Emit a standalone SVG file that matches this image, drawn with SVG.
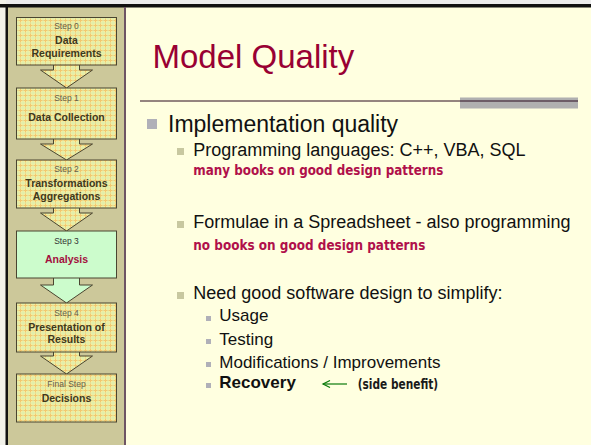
<svg xmlns="http://www.w3.org/2000/svg" width="591" height="445" viewBox="0 0 591 445">
<style>
.box{stroke:#4a4530;stroke-width:1}
.plaid{fill:url(#plaid)}
.green{fill:#ccfccc}
.arr{stroke:#4a4530;stroke-width:1;stroke-linejoin:miter}
.step{font-family:"Liberation Sans",Arial,sans-serif;font-size:8.5px;fill:#66604a;text-anchor:middle}
.lbl{font-family:"Liberation Sans",Arial,sans-serif;font-size:10.5px;font-weight:bold;fill:#40381c;text-anchor:middle}
.t1{font-family:"Liberation Sans",Arial,sans-serif;font-size:23px;fill:#111}
.t2{font-family:"Liberation Sans",Arial,sans-serif;font-size:18px;fill:#111}
.t3{font-family:"Liberation Sans",Arial,sans-serif;font-size:17px;fill:#111}
.hand{font-family:"Liberation Sans Narrow","DejaVu Sans Condensed",sans-serif;font-size:14px;font-weight:bold}
.b2{fill:#c8c8a0}
.b3{fill:#b0b0b8}
</style>
<defs>
<pattern id="plaid" width="5" height="5" patternUnits="userSpaceOnUse">
<rect width="5" height="5" fill="#f7ee9e"/>
<rect x="0" y="0" width="1" height="5" fill="#f2c870"/>
<rect x="0" y="0" width="5" height="1" fill="#f2c870"/>
<rect x="2.5" y="0" width="1" height="5" fill="#dcefb0"/>
<rect x="0" y="2.5" width="5" height="1" fill="#dcefb0"/>
</pattern>
<marker id="ah" markerWidth="10" markerHeight="8" refX="7.5" refY="4" orient="auto" markerUnits="userSpaceOnUse">
<path d="M0.5,0.5 L7.5,4 L0.5,7.5" fill="none" stroke="#0a7a0a" stroke-width="1.2"/>
</marker>
</defs>
<!-- background -->
<rect x="0" y="0" width="591" height="445" fill="#ffffe0"/>
<rect x="0" y="0" width="591" height="4" fill="#ececec"/>
<rect x="0" y="0" width="6" height="445" fill="#f2f2ea"/>
<rect x="8" y="7" width="116" height="438" fill="#ccc89a"/>
<rect x="0" y="4" width="591" height="3.5" fill="#111"/>
<rect x="5.5" y="4" width="2.5" height="441" fill="#111"/>
<rect x="124" y="7" width="2" height="438" fill="#6e5464"/>

<!-- connectors (block arrows) -->
<g id="connectors">
<polygon class="arr plaid" points="53.5,60 79.5,60 79.5,70 92.5,70 66.5,88 40.5,70 53.5,70"/>
<polygon class="arr plaid" points="53.5,134 79.5,134 79.5,144 92.5,144 66.5,160 40.5,144 53.5,144"/>
<polygon class="arr plaid" points="53.5,203 79.5,203 79.5,213 92.5,213 66.5,231 40.5,213 53.5,213"/>
<polygon class="arr green" points="53.5,273 79.5,273 79.5,285 92.5,285 66.5,303 40.5,285 53.5,285"/>
<polygon class="arr plaid" points="53.5,347 79.5,347 79.5,356 92.5,356 66.5,374 40.5,356 53.5,356"/>
</g>

<g id="step0">
<rect class="box plaid" x="16.5" y="17.5" width="100" height="47.5"/>
<text class="step" x="66.5" y="29">Step 0</text>
<text class="lbl" x="66.5" y="44">Data</text>
<text class="lbl" x="66.5" y="57">Requirements</text>
</g>
<g id="step1">
<rect class="box plaid" x="16.5" y="88" width="100" height="51"/>
<text class="step" x="66.5" y="101">Step 1</text>
<text class="lbl" x="66.5" y="121">Data Collection</text>
</g>
<g id="step2">
<rect class="box plaid" x="16.5" y="160" width="100" height="48"/>
<text class="step" x="66.5" y="172">Step 2</text>
<text class="lbl" x="66.5" y="187">Transformations</text>
<text class="lbl" x="66.5" y="200">Aggregations</text>
</g>
<g id="step3">
<rect class="box green" x="16.5" y="231" width="100" height="47"/>
<text class="step" x="66.5" y="244" style="fill:#333">Step 3</text>
<text class="lbl" x="66.5" y="263" style="fill:#a3103e">Analysis</text>
</g>
<g id="step4">
<rect class="box plaid" x="16.5" y="303" width="100" height="49"/>
<text class="step" x="66.5" y="316">Step 4</text>
<text class="lbl" x="66.5" y="331">Presentation of</text>
<text class="lbl" x="66.5" y="343">Results</text>
</g>
<g id="step5">
<rect class="box plaid" x="16.5" y="374" width="100" height="48"/>
<text class="step" x="66.5" y="387">Final Step</text>
<text class="lbl" x="66.5" y="402">Decisions</text>
</g>

<!-- title -->
<text x="152.5" y="68" font-family="Liberation Sans, Arial, sans-serif" font-size="33" fill="#990033">Model Quality</text>
<rect x="460" y="97.5" width="118" height="11" fill="#b0b0b0"/>
<line x1="140" y1="101" x2="578" y2="101" stroke="#2a0a1e" stroke-width="1"/>

<!-- bullets -->
<rect class="b3" x="147" y="119" width="10" height="10"/>
<text class="t1" x="168" y="131.5">Implementation quality</text>

<rect class="b2" x="177" y="148" width="7" height="7"/>
<text class="t2" x="193.3" y="155.7">Programming languages: C++, VBA, SQL</text>
<text class="hand" x="193.3" y="175" fill="#b0104a" textLength="250" lengthAdjust="spacingAndGlyphs">many books on good design patterns</text>

<rect class="b2" x="177" y="221" width="7" height="7"/>
<text class="t2" x="193.3" y="228.3">Formulae in a Spreadsheet - also programming</text>
<text class="hand" x="193.3" y="249.5" fill="#b0104a" textLength="232" lengthAdjust="spacingAndGlyphs">no books on good design patterns</text>

<rect class="b2" x="177" y="292" width="7" height="7"/>
<text class="t2" x="193.3" y="299.3">Need good software design to simplify:</text>

<rect class="b3" x="206" y="316" width="5" height="5"/>
<text class="t3" x="219.3" y="321">Usage</text>
<rect class="b3" x="206" y="339" width="5" height="5"/>
<text class="t3" x="219.3" y="345">Testing</text>
<rect class="b3" x="206" y="362" width="5" height="5"/>
<text class="t3" x="219.3" y="368.3">Modifications / Improvements</text>
<rect class="b3" x="206" y="383" width="5" height="5"/>
<text class="t3" x="219.3" y="388.3" font-weight="bold">Recovery</text>

<line x1="347" y1="384" x2="323" y2="384" stroke="#0a7a0a" stroke-width="1.2" marker-end="url(#ah)"/>
<text class="hand" x="357.7" y="389" fill="#1a1a1a" textLength="80.5" lengthAdjust="spacingAndGlyphs">(side benefit)</text>
</svg>
